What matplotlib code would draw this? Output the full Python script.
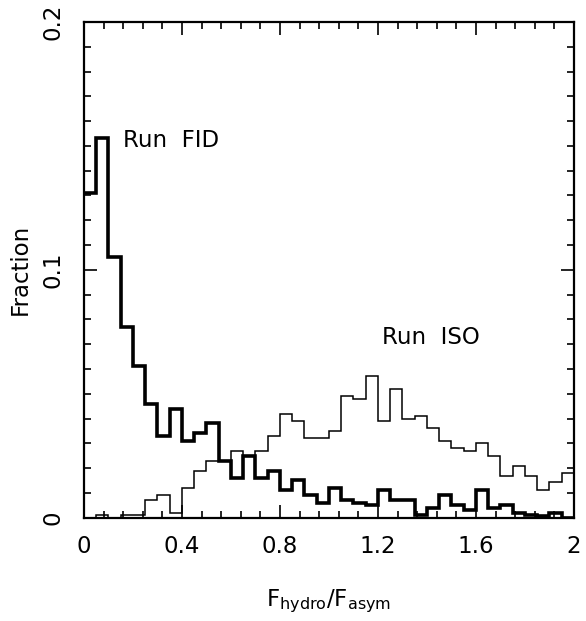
import numpy as np
import matplotlib
matplotlib.use('Agg')
import matplotlib.pyplot as plt
from matplotlib.ticker import MultipleLocator

# histogram of F_hydro/F_asym, 40 bins of width 0.05 over [0, 2]
bin_lo = 0.0
bin_hi = 2.0
n_bins = 40

run_fid = [0.131, 0.153, 0.105, 0.077, 0.061, 0.046, 0.033, 0.044, 0.031, 0.034,
           0.038, 0.023, 0.016, 0.025, 0.016, 0.019, 0.011, 0.015, 0.009, 0.006,
           0.012, 0.007, 0.006, 0.005, 0.011, 0.007, 0.007, 0.001, 0.004, 0.009,
           0.005, 0.003, 0.011, 0.004, 0.005, 0.002, 0.001, 0.0005, 0.002, 0.0]

run_iso = [0.0, 0.001, 0.0, 0.001, 0.001, 0.007, 0.009, 0.002, 0.012, 0.019,
           0.023, 0.023, 0.027, 0.025, 0.027, 0.033, 0.042, 0.039, 0.032, 0.032,
           0.035, 0.049, 0.048, 0.057, 0.039, 0.052, 0.040, 0.041, 0.036, 0.031,
           0.028, 0.027, 0.030, 0.025, 0.017, 0.021, 0.017, 0.011, 0.0145, 0.018]

edges = np.linspace(bin_lo, bin_hi, n_bins + 1)

plt.rcParams['font.family'] = ['DejaVu Sans']
fig = plt.figure(figsize=(5.86, 6.21), dpi=100)
ax = fig.add_axes([0.1433, 0.1664, 0.8362, 0.7982])

ax.stairs(run_fid, edges, baseline=None, color='black', linewidth=2.6)
ax.stairs(run_iso, edges, baseline=None, color='black', linewidth=1.1)

ax.set_xlim(0, 2)
ax.set_ylim(0, 0.2)

ax.xaxis.set_major_locator(MultipleLocator(0.4))
ax.xaxis.set_minor_locator(MultipleLocator(0.08))
ax.yaxis.set_major_locator(MultipleLocator(0.1))
ax.yaxis.set_minor_locator(MultipleLocator(0.01))
ax.set_xticks([0, 0.4, 0.8, 1.2, 1.6, 2.0])
ax.set_xticklabels(['0', '0.4', '0.8', '1.2', '1.6', '2'])
ax.set_yticks([0, 0.1, 0.2])
ax.set_yticklabels(['0', '0.1', '0.2'], rotation=90, va='center')

ax.tick_params(which='both', direction='in', top=True, right=True, width=1.2,
               labelsize=16.5)
ax.tick_params(which='major', length=9.5)
ax.tick_params(which='minor', length=5)
ax.tick_params(axis='x', which='major', pad=12.5)
ax.tick_params(axis='y', which='major', pad=14)
for s in ax.spines.values():
    s.set_linewidth(1.6)

ax.text(0.16, 0.152, 'Run  FID', fontsize=16.5, va='center', ha='left')
ax.text(1.215, 0.0725, 'Run  ISO', fontsize=16.5, va='center', ha='left')

ax.set_xlabel(r'F$_{\mathregular{hydro}}$/F$_{\mathregular{asym}}$', fontsize=16.5, labelpad=21)
ax.set_ylabel('Fraction', fontsize=16.5, labelpad=7)

fig.savefig('out.png', dpi=100)
